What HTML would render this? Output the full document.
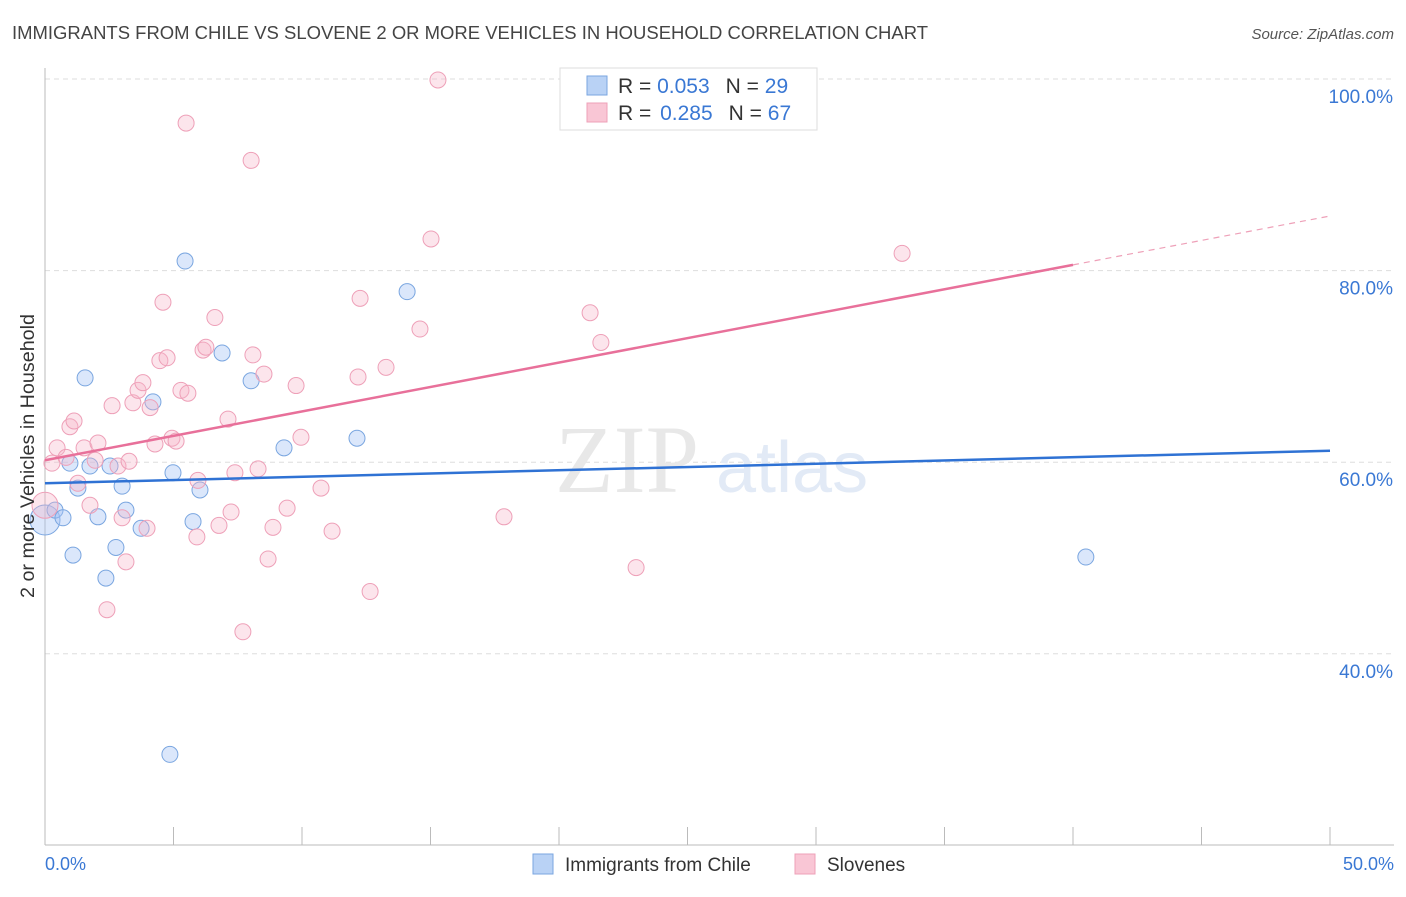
<!DOCTYPE html>
<html><head><meta charset="utf-8"><style>
body{margin:0;background:#fff;font-family:"Liberation Sans",sans-serif;}
</style></head><body>
<svg width="1406" height="892" xmlns="http://www.w3.org/2000/svg" style="font-family:'Liberation Sans',sans-serif">
<text x="12" y="39" font-size="18" fill="#444" textLength="916" lengthAdjust="spacingAndGlyphs">IMMIGRANTS FROM CHILE VS SLOVENE 2 OR MORE VEHICLES IN HOUSEHOLD CORRELATION CHART</text>
<text x="1394" y="39" font-size="15" fill="#555" font-style="italic" text-anchor="end">Source: ZipAtlas.com</text>
<g id="grid"></g>
<g id="axes"></g>
<text x="555" y="492" font-size="96" fill="#e8e8e8" font-family="Liberation Serif">ZIP</text>
<text x="716" y="492" font-size="72" fill="#e2eaf6">atlas</text>
<g id="pts"></g>
<g id="trends"></g>
<text transform="translate(34,456) rotate(-90)" font-size="19" fill="#333" text-anchor="middle" textLength="284" lengthAdjust="spacingAndGlyphs">2 or more Vehicles in Household</text>
<text x="45" y="870" font-size="18" fill="#3a78d4">0.0%</text>
<text x="1394" y="870" font-size="18" fill="#3a78d4" text-anchor="end">50.0%</text>
<g>
<rect x="560" y="68" width="257" height="62" fill="#fff" stroke="#ddd"/>
<rect x="587" y="76" width="20" height="19" fill="#b9d2f5" stroke="#7aa6e0"/>
<rect x="587" y="103" width="20" height="19" fill="#f9c6d5" stroke="#eea0b8"/>
<text x="618" y="93" font-size="21" fill="#333">R = <tspan fill="#3a78d4">0.053</tspan><tspan dx="16">N = </tspan><tspan fill="#3a78d4">29</tspan></text>
<text x="618" y="120" font-size="21" fill="#333">R = <tspan fill="#3a78d4" dx="3">0.285</tspan><tspan dx="16">N = </tspan><tspan fill="#3a78d4">67</tspan></text>
</g>
<g>
<rect x="533" y="854" width="20" height="20" fill="#b9d2f5" stroke="#7aa6e0"/>
<text x="565" y="871" font-size="19" fill="#333">Immigrants from Chile</text>
<rect x="795" y="854" width="20" height="20" fill="#f9c6d5" stroke="#eea0b8"/>
<text x="827" y="871" font-size="19" fill="#333">Slovenes</text>
</g>
</svg>
<script>
const yTicks=[40,60,80,100];
const yTickLabels=["40.0%","60.0%","80.0%","100.0%"];
const xTicks=[0,5,10,15,20,25,30,35,40,45,50];
const blueX=[0,0.39,0.7,0.97,1.09,1.28,1.56,1.75,2.06,2.37,2.53,2.76,3.0,3.15,3.74,4.2,4.98,5.45,5.76,6.03,6.89,8.02,9.3,12.14,14.09,40.5,4.86];
const blueY=[53.97,55.0,54.2,59.9,50.3,57.3,68.8,59.6,54.3,47.9,59.6,51.1,57.5,55.0,53.1,66.3,58.9,81.0,53.8,57.1,71.4,68.5,61.5,62.5,77.8,50.1,29.5];
const pinkX=[0,0.27,0.47,0.82,0.97,1.13,1.28,1.52,1.75,1.95,2.06,2.41,2.61,2.84,3.0,3.15,3.27,3.42,3.62,3.81,3.97,4.09,4.28,4.47,4.59,4.75,4.94,5.1,5.29,5.49,5.56,5.91,5.95,6.15,6.26,6.61,6.77,7.12,7.24,7.39,7.7,8.02,8.09,8.29,8.52,8.68,8.87,9.42,9.77,9.96,10.74,11.17,12.18,12.26,12.65,13.27,14.59,15.02,15.29,17.86,21.21,21.63,23.0,33.35];
const pinkY=[55.5,59.9,61.5,60.5,63.7,64.3,57.8,61.5,55.5,60.2,62.0,44.6,65.9,59.6,54.2,49.6,60.1,66.2,67.5,68.3,53.1,65.7,61.9,70.6,76.7,70.9,62.5,62.2,67.5,95.4,67.2,52.2,58.1,71.7,72.0,75.1,53.4,64.5,54.8,58.9,42.3,91.5,71.2,59.3,69.2,49.9,53.2,55.2,68.0,62.6,57.3,52.8,68.9,77.1,46.5,69.9,73.9,83.3,99.9,54.3,75.6,72.5,49.0,81.8];
const blueTrend=[57.8,61.2];
const pinkTrend=[60.2,85.7];
const pinkSolidEnd=40;
const NS="http://www.w3.org/2000/svg";
const xs=v=>45+v*25.7, ys=v=>79+(100-v)*9.58;
function mk(t,a,p){const e=document.createElementNS(NS,t);for(const k in a)e.setAttribute(k,a[k]);p.appendChild(e);return e;}
const grid=document.getElementById('grid'),axes=document.getElementById('axes');
yTicks.forEach((v,i)=>{const g=mk('line',{x1:45,x2:1394,y1:ys(v),y2:ys(v),stroke:'#ddd','stroke-dasharray':'5,4'},grid);


const t=mk('text',{x:1393,y:ys(v)+24,'font-size':19,fill:'#3a78d4','text-anchor':'end'},axes);t.textContent=yTickLabels[i];

});
mk('line',{x1:45,x2:45,y1:68,y2:845,stroke:'#bbb'},axes);
mk('line',{x1:45,x2:1394,y1:845,y2:845,stroke:'#bbb'},axes);
xTicks.forEach(v=>{const t=mk('line',{x1:xs(v),x2:xs(v),y1:827,y2:845,stroke:'#bbb'},axes);

});
const pts=document.getElementById('pts');
blueX.forEach((x,i)=>{const c=mk('circle',{cx:xs(x),cy:ys(blueY[i]),r:i==0?15:8,fill:'rgba(164,194,244,0.4)',stroke:'#7aa6e0','stroke-width':1},pts);

});
pinkX.forEach((x,i)=>{const c=mk('circle',{cx:xs(x),cy:ys(pinkY[i]),r:i==0?13:8,fill:'rgba(246,180,200,0.35)',stroke:'#eea0b8','stroke-width':1},pts);

});
const tr=document.getElementById('trends');
const b=mk('line',{x1:xs(0),y1:ys(blueTrend[0]),x2:xs(50),y2:ys(blueTrend[1]),stroke:'#2f72d4','stroke-width':2.5},tr);


const pe=pinkTrend[0]+(pinkTrend[1]-pinkTrend[0])*pinkSolidEnd/50;
const p=mk('line',{x1:xs(0),y1:ys(pinkTrend[0]),x2:xs(pinkSolidEnd),y2:ys(pe),stroke:'#e8709a','stroke-width':2.5},tr);


const pd=mk('line',{x1:xs(pinkSolidEnd),y1:ys(pe),x2:xs(50),y2:ys(pinkTrend[1]),stroke:'#eea0b8','stroke-width':1.2,'stroke-dasharray':'6,5'},tr);


</script>
</body></html>
